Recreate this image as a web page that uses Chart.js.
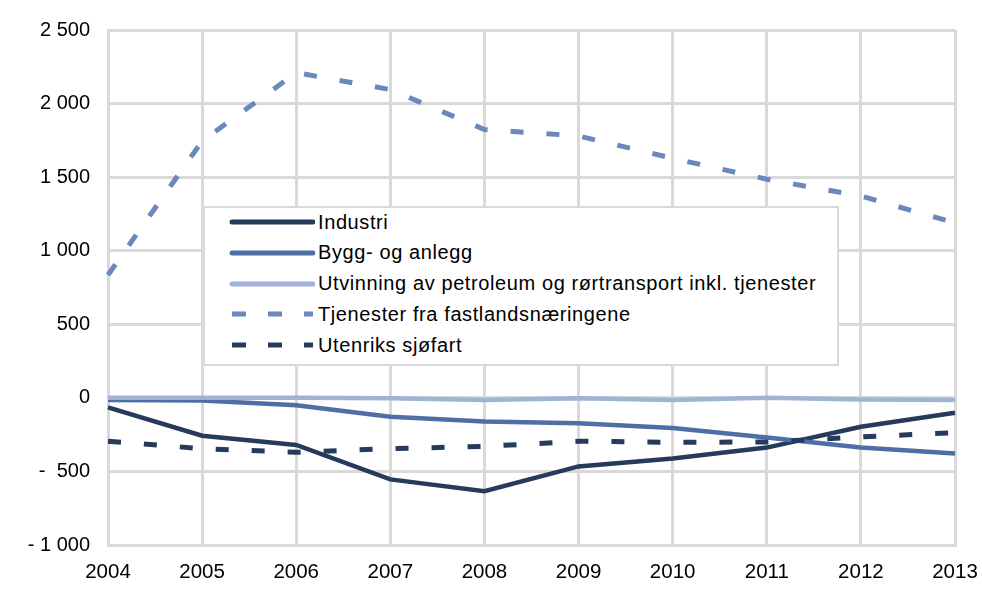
<!DOCTYPE html>
<html>
<head>
<meta charset="utf-8">
<script src="https://cdn.jsdelivr.net/npm/chart.js@4"></script>
<style>
  body { margin: 0; background: #fff; }
  #wrap { position: relative; width: 982px; height: 603px; }
  #legend {
    position: absolute; left: 203px; top: 206px; width: 632px; height: 156px;
    background: #fff; border: 2px solid #d9d9d9;
    font-family: "Liberation Sans", Arial, sans-serif; font-size: 20px; color: #000;
    letter-spacing: 0.6px;
  }
  .row { position: absolute; left: 0; height: 30px; display: flex; align-items: center; white-space: nowrap; }
  .row svg { margin-left: 24px; margin-right: 3px; }
</style>
</head>
<body>
<div id="wrap">
  <canvas id="chart"></canvas>
  <div id="legend"></div>
</div>
<script>
const years = ['2004', '2005', '2006', '2007', '2008', '2009', '2010', '2011', '2012', '2013'];

const seriesNames = [
  'Industri',
  'Bygg- og anlegg',
  'Utvinning av petroleum og rørtransport inkl. tjenester',
  'Tjenester fra fastlandsnæringene',
  'Utenriks sjøfart'
];

const industri = [-65, -257, -320, -554, -635, -466, -412, -338, -196, -101];
const bygg = [-14, -18, -50, -128, -160, -172, -205, -270, -338, -378];
const utvinning = [0, 0, 0, -3, -14, -2, -14, 0, -12, -14];
const tjenester = [835, 1745, 2210, 2095, 1824, 1780, 1628, 1486, 1372, 1189];
const utenriks = [-295, -345, -370, -345, -330, -295, -302, -300, -265, -237];

const yTickValues = [-1000, -500, 0, 500, 1000, 1500, 2000, 2500];
const yTickLabels = ['- 1 000', '-  500', '0', '500', '1 000', '1 500', '2 000', '2 500'];

const colors = ['#263a5c', '#4e6ea6', '#a0b3d7', '#6b88bd', '#263a5c'];
const dashes = [[], [], [], [13, 23], [13, 23]];
const values = [industri, bygg, utvinning, tjenester, utenriks];

const gridColor = '#d9d9d9';
const fontFamily = '"Liberation Sans", Arial, sans-serif';

const datasets = seriesNames.map(function(name, i) {
  return {
    label: name,
    data: values[i],
    borderColor: colors[i],
    borderWidth: i >= 3 ? 5 : 4.5,
    borderDash: dashes[i],
    pointRadius: 0,
    tension: 0,
    fill: false,
    borderCapStyle: 'butt'
  };
});

// legend drawn as html on top of the plot, like the original
const legend = document.getElementById('legend');
seriesNames.forEach(function(name, i) {
  const row = document.createElement('div');
  row.className = 'row';
  row.style.top = (i * 30.8 - 1) + 'px';
  const dash = dashes[i].length ? 'stroke-dasharray="14 22"' : '';
  const cap = dashes[i].length ? 'butt' : 'round';
  row.innerHTML = '<svg width="86" height="10"><line x1="3" y1="5" x2="84" y2="5" stroke="' + colors[i] +
    '" stroke-width="5" stroke-linecap="' + cap + '" ' + dash + '/></svg><span>' + name + '</span>';
  legend.appendChild(row);
});

const ctx = document.getElementById('chart').getContext('2d');
new Chart(ctx, {
  type: 'line',
  data: { labels: years, datasets: datasets.slice().reverse() },
  options: {
    responsive: true,
    maintainAspectRatio: false,
    animation: false,
    layout: { padding: { top: 28, right: 27, left: 0, bottom: 0 } },
    plugins: { legend: { display: false }, tooltip: { enabled: false } },
    scales: {
      x: {
        offset: false,
        grid: { color: gridColor, lineWidth: 3, drawTicks: false },
        border: { color: gridColor, width: 3 },
        ticks: {
          color: '#000', padding: 15, maxRotation: 0,
          font: { family: fontFamily, size: 20.5 }
        },
        afterFit: function(scale) {
          scale.height = 58;
          scale.paddingLeft = 0;
          scale.paddingRight = 0;
        }
      },
      y: {
        min: -1000,
        max: 2500,
        afterBuildTicks: function(scale) {
          scale.ticks = yTickValues.map(function(v) { return { value: v }; });
        },
        grid: { color: gridColor, lineWidth: 3, drawTicks: false },
        border: { color: gridColor, width: 3 },
        ticks: {
          color: '#000', padding: 18,
          font: { family: fontFamily, size: 20 },
          callback: function(v) { return yTickLabels[yTickValues.indexOf(v)]; }
        },
        afterFit: function(scale) { scale.width = 108; }
      }
    }
  }
});
</script>
</body>
</html>
